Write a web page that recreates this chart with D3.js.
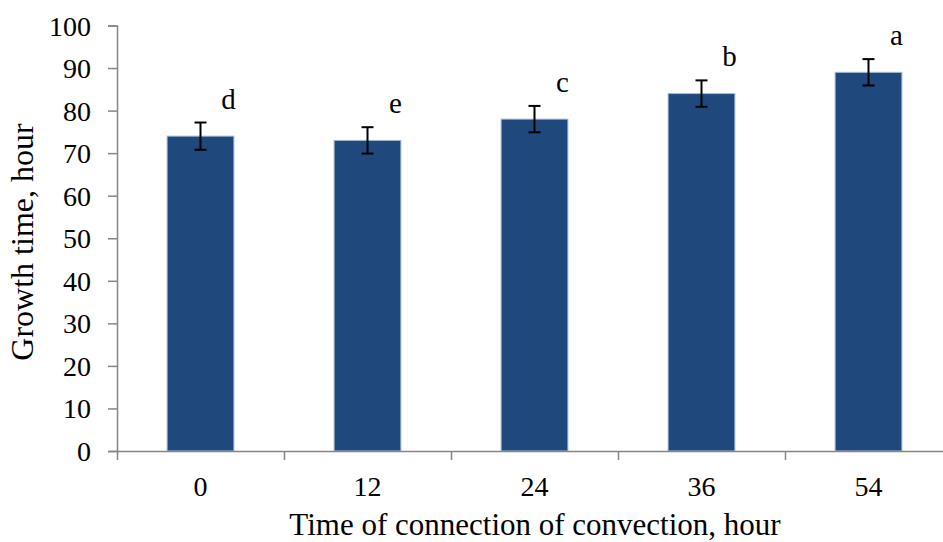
<!DOCTYPE html>
<html>
<head>
<meta charset="utf-8">
<script src="https://cdn.jsdelivr.net/npm/d3@7"></script>
<style>
  body { margin: 0; background: #fff; }
  text { font-family: "Liberation Serif", "Times New Roman", serif; fill: #000; }
</style>
</head>
<body>
<div id="chart"></div>
<script>
// bar chart: growth time vs time of connection of convection

const FRAME_WIDTH = 943;
const FRAME_HEIGHT = 542;
const MARGINS = {left: 117, right: -9, top: 25.5, bottom: 91};
const SERIF = '"Liberation Serif", "Times New Roman", serif';

const VIS_WIDTH = FRAME_WIDTH - MARGINS.left - MARGINS.right;
const VIS_HEIGHT = FRAME_HEIGHT - MARGINS.top - MARGINS.bottom;

// data
const categories = ['0', '12', '24', '36', '54'];
const growthTime = [74, 73, 78, 84, 89];
const errors = [3.2, 3.1, 3.1, 3.1, 3.1];
const letters = ['d', 'e', 'c', 'b', 'a'];
const yTicks = [0, 10, 20, 30, 40, 50, 60, 70, 80, 90, 100];

const FRAME = d3.select('#chart')
  .append('svg')
    .attr('width', FRAME_WIDTH)
    .attr('height', FRAME_HEIGHT);

const g = FRAME.append('g')
  .attr('transform', 'translate(' + MARGINS.left + ',' + MARGINS.top + ')');

const xscale = d3.scaleBand()
  .domain(categories)
  .range([0, VIS_WIDTH])
  .paddingInner(0.6)
  .paddingOuter(0.3);

const yscale = d3.scaleLinear()
  .domain([0, 100])
  .range([VIS_HEIGHT, 0]);

// bars
g.selectAll('.bar')
  .data(categories)
  .enter()
  .append('rect')
    .attr('class', 'bar')
    .attr('x', (d) => xscale(d))
    .attr('y', (d, i) => yscale(growthTime[i]))
    .attr('width', xscale.bandwidth())
    .attr('height', (d, i) => VIS_HEIGHT - yscale(growthTime[i]))
    .attr('fill', '#1f497d')
    .attr('stroke', '#a9bbd4')
    .attr('stroke-width', 1);

// error bars
const cx = (d) => xscale(d) + xscale.bandwidth() / 2;
const err = g.selectAll('.err')
  .data(categories)
  .enter()
  .append('g')
    .attr('class', 'err')
    .attr('stroke', '#000')
    .attr('stroke-width', 2);

err.append('line')
  .attr('x1', cx).attr('x2', cx)
  .attr('y1', (d, i) => yscale(growthTime[i] + errors[i]))
  .attr('y2', (d, i) => yscale(growthTime[i] - errors[i]));
err.append('line')
  .attr('x1', (d) => cx(d) - 6).attr('x2', (d) => cx(d) + 6)
  .attr('y1', (d, i) => yscale(growthTime[i] + errors[i]))
  .attr('y2', (d, i) => yscale(growthTime[i] + errors[i]));
err.append('line')
  .attr('x1', (d) => cx(d) - 6).attr('x2', (d) => cx(d) + 6)
  .attr('y1', (d, i) => yscale(growthTime[i] - errors[i]))
  .attr('y2', (d, i) => yscale(growthTime[i] - errors[i]));

// significance letters
g.selectAll('.letter')
  .data(categories)
  .enter()
  .append('text')
    .attr('class', 'letter')
    .attr('x', (d) => cx(d) + 28)
    .attr('y', (d, i) => yscale(growthTime[i] + errors[i]) - 14)
    .attr('text-anchor', 'middle')
    .attr('font-size', '29px')
    .text((d, i) => letters[i]);

// y axis
const yAxis = g.append('g')
  .call(d3.axisLeft(yscale).tickValues(yTicks).tickSize(9).tickPadding(17));
yAxis.selectAll('text').attr('font-size', '28px').attr('dy', '0.34em');

// x axis: labels at band centers, ticks at band boundaries
const xAxis = g.append('g')
  .attr('transform', 'translate(0,' + VIS_HEIGHT + ')')
  .call(d3.axisBottom(xscale).tickSize(0).tickPadding(25));
xAxis.selectAll('text').attr('font-size', '28px');

const xEdge = d3.scaleLinear().domain([0, categories.length]).range([0, VIS_WIDTH]);
g.append('g')
  .attr('transform', 'translate(0,' + VIS_HEIGHT + ')')
  .call(d3.axisBottom(xEdge).ticks(categories.length).tickSize(9).tickFormat(''))
  .call((a) => a.select('.domain').remove());

FRAME.selectAll('.domain, .tick line')
  .attr('stroke', '#868686')
  .attr('stroke-width', 1.5);

// axis titles
FRAME.append('text')
  .attr('transform', 'translate(33,242) rotate(-90)')
  .attr('text-anchor', 'middle')
  .attr('font-size', '32px')
  .text('Growth time, hour');

FRAME.append('text')
  .attr('x', 535)
  .attr('y', 535)
  .attr('text-anchor', 'middle')
  .attr('font-size', '31px')
  .text('Time of connection of convection, hour');

FRAME.selectAll('text').attr('font-family', SERIF);
</script>
</body>
</html>
